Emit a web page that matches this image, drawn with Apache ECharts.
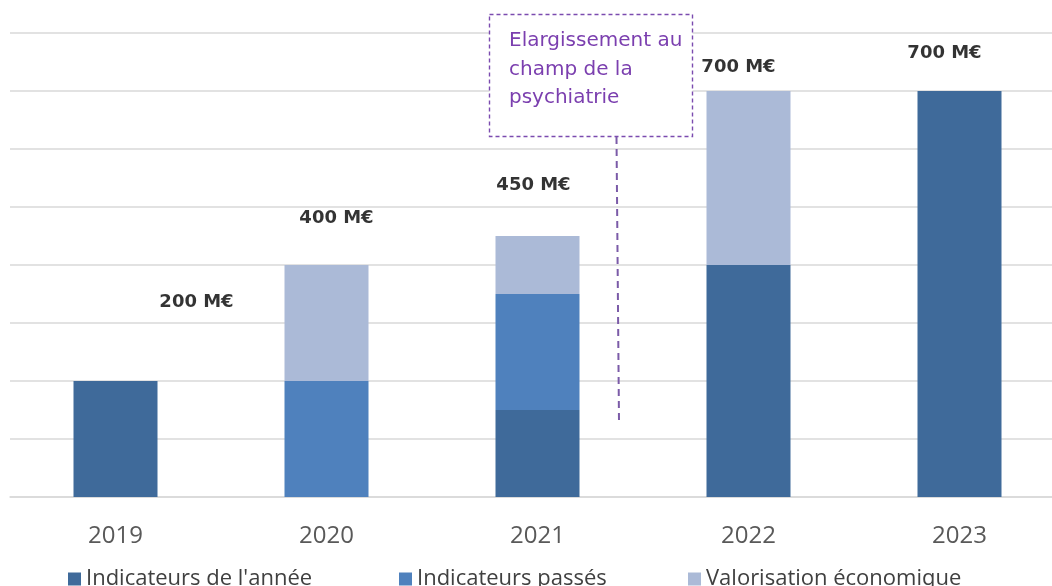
<!DOCTYPE html>
<html><head><meta charset="utf-8">
<script src="https://cdn.jsdelivr.net/npm/echarts@6/dist/echarts.min.js"></script>
<style>html,body{margin:0;padding:0;background:#fff;overflow:hidden}#c{width:1065px;height:586px}</style>
</head><body><div id="c"></div>
<script>
const categories = ['2019','2020','2021','2022','2023'];
const indicateursAnnee = [200, 0, 150, 400, 700];
const indicateursPasses = [0, 200, 200, 0, 0];
const valorisation = [0, 200, 100, 300, 0];
const totalLabels = ['200 M€','400 M€','450 M€','700 M€','700 M€'];
const yTicks = [0,100,200,300,400,500,600,700,800];

// label placement offsets (style only)
const labelOffsets = [[81,-79],[10,-47],[-4,-51],[-10,-24],[-15,-38]];

const totals = categories.map((c,i)=>indicateursAnnee[i]+indicateursPasses[i]+valorisation[i]);
const FONT = 'Open Sans';
const chart = echarts.init(document.getElementById('c'));
const legendBase = {top: 563, itemWidth: 13, itemHeight: 13, icon: 'rect',
  textStyle: {fontFamily: FONT, fontSize: 22, color: '#404040'}, selectedMode: false};
chart.setOption({
  animation: false,
  grid: {left: 10, right: 0, top: 33, bottom: 89},
  xAxis: {type: 'category', data: categories,
    axisLine: {lineStyle: {color: '#D9D9D9', width: 1.5}}, axisTick: {show: false},
    axisLabel: {fontFamily: FONT, fontSize: 24, color: '#595959', margin: 27}},
  yAxis: {type: 'value', min: yTicks[0], max: yTicks[yTicks.length-1], interval: yTicks[1]-yTicks[0],
    axisLabel: {show: false}, axisLine: {show: false}, axisTick: {show: false},
    splitLine: {lineStyle: {color: '#D9D9D9', width: 1.5}}},
  legend: [
    Object.assign({}, legendBase, {left: 63, data: ['Indicateurs de l\'année']}),
    Object.assign({}, legendBase, {left: 394, data: ['Indicateurs passés']}),
    Object.assign({}, legendBase, {left: 683, data: ['Valorisation économique']})
  ],
  series: [
    {name: 'Indicateurs de l\'année', type: 'bar', stack: 't', barWidth: 84, data: indicateursAnnee,
      itemStyle: {color: '#3F6A9A'}},
    {name: 'Indicateurs passés', type: 'bar', stack: 't', barWidth: 84, data: indicateursPasses,
      itemStyle: {color: '#4F81BD'}},
    {name: 'Valorisation économique', type: 'bar', stack: 't', barWidth: 84, data: valorisation,
      itemStyle: {color: '#ABBAD7'}},
    {name: 'totaux', type: 'scatter', symbolSize: 0, silent: true,
      data: totals.map((v,i)=>({value: v, label: {offset: labelOffsets[i]}})),
      label: {show: true, position: 'inside', fontFamily: 'DejaVu Sans', fontWeight: 'bold', fontSize: 18,
        color: '#000000', textBorderWidth: 0,
        formatter: p => totalLabels[p.dataIndex]}}
  ],
  graphic: [
    {type: 'rect', shape: {x: 489.5, y: 14.5, width: 203, height: 122},
      style: {fill: '#fff', stroke: '#7B4BAF', lineWidth: 1.4, lineDash: [4,3]}, z: 10},
    {type: 'text', left: 509, top: 27, z: 11,
      style: {text: 'Elargissement au\nchamp de la\npsychiatrie', fontFamily: 'DejaVu Sans', fontSize: 20,
        lineHeight: 28.5, fill: '#7B3FAF'}},
    {type: 'line', shape: {x1: 616.5, y1: 137, x2: 619, y2: 422},
      style: {stroke: '#7B5BA8', lineWidth: 2, lineDash: [7,5]}, z: 10}
  ]
});
</script></body></html>
